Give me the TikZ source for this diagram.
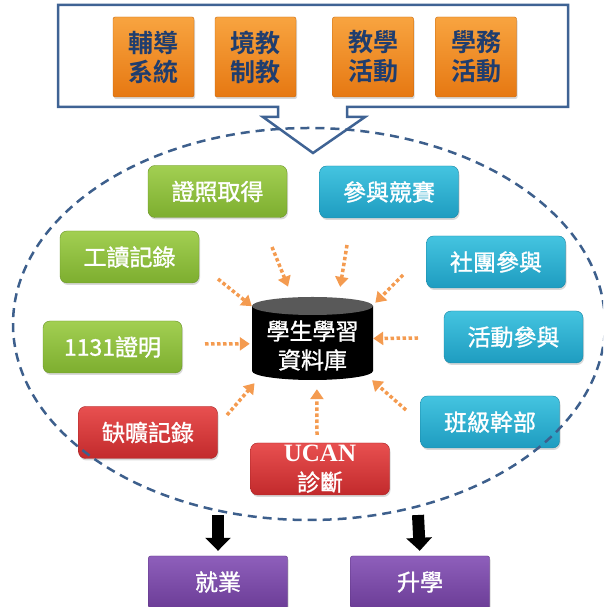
\documentclass[tikz,border=0pt]{standalone}
\usepackage{fontspec}
\setmainfont{Noto Sans CJK TC}[FakeBold=1.2]
\newfontfamily\unitfont{Noto Sans CJK TC Bold}
\newfontfamily\ucanfont{Liberation Serif}
\usetikzlibrary{arrows.meta,shadows}

\begin{document}
\begin{tikzpicture}[x=1pt, y=1pt,
    every node/.style={font=\fontsize{23}{29}\selectfont, align=center, inner sep=0pt},
    boxshadow/.style={drop shadow={opacity=0.3, shadow xshift=1pt, shadow yshift=-2pt}},
    unitbox/.style={boxshadow, rounded corners=2pt, minimum width=81pt, minimum height=80pt,
        top color=unitTop, bottom color=unitBot, draw=unitBot!85!black, text=unitText,
        font=\unitfont\fontsize{25}{29}\selectfont},
    recbox/.style={boxshadow, rounded corners=7pt, minimum width=139pt, minimum height=52pt, text=white},
    greenbox/.style={recbox, top color=greenTop, bottom color=greenBot, draw=greenBot!85!black},
    bluebox/.style={recbox, top color=blueTop, bottom color=blueBot, draw=blueBot!85!black},
    redbox/.style={recbox, top color=redTop, bottom color=redBot, draw=redBot!85!black},
    purplebox/.style={recbox, rounded corners=2pt, top color=purpleTop, bottom color=purpleBot, draw=purpleBot!85!black},
    feed/.style={draw=feedOrange, line width=3.5pt, dash pattern=on 3.5pt off 2.5pt, -{Triangle[width=13pt,length=10pt]}},
    outflow/.style={line width=12pt, -{Triangle[width=25pt,length=13pt]}, shorten >=5pt}]
        \definecolor{unitTop}{HTML}{F8A440}
        \definecolor{unitBot}{HTML}{E67812}
        \definecolor{unitText}{HTML}{1F3D6E}
        \definecolor{greenTop}{HTML}{A2CF52}
        \definecolor{greenBot}{HTML}{7DAE2F}
        \definecolor{blueTop}{HTML}{44C4E0}
        \definecolor{blueBot}{HTML}{1E9CC0}
        \definecolor{redTop}{HTML}{E85050}
        \definecolor{redBot}{HTML}{C22A2C}
        \definecolor{purpleTop}{HTML}{8E5FBB}
        \definecolor{purpleBot}{HTML}{6C3D97}
        \definecolor{frame}{HTML}{3F6394}
        \definecolor{ring}{HTML}{3D5F8C}
        \definecolor{feedOrange}{HTML}{F49B50}
        \useasboundingbox (0,0) rectangle (603,607);
        \clip (0,0) rectangle (603,607);
        % units on top
        \draw[frame, line width=2.5pt, line join=miter]
          (58,602) -- (568,602) -- (568,500) -- (347,500) -- (347,490) -- (365,490)
          -- (313,454) -- (263,490) -- (278,490) -- (278,500) -- (58,500) -- cycle;
        \node[unitbox] (fudao) at (153.5,550) {輔導\\系統};
        \node[unitbox] (jingjiao) at (255.5,550) {境教\\制教};
        \node[unitbox] (jiaoxue) at (373,550) {教學\\活動};
        \node[unitbox] (xuewu) at (476,550) {學務\\活動};
        % database
        \fill[black] (252,301) -- (252,236) arc[start angle=180, end angle=360, x radius=60.5, y radius=9] -- (373,301) -- cycle;
        \fill[black!65] (312.5,301) ellipse[x radius=60.5, y radius=9];
        \node[minimum width=121pt, minimum height=83pt] (db) at (312.5,268.5) {};
        \node[text=white] (dblabel) at (312.5,261.5) {學生學習\\資料庫};
        % records
        \node[greenbox] (zhengzhao) at (217.5,415.5) {證照取得};
        \node[greenbox] (gongdu) at (129.5,350) {工讀記錄};
        \node[greenbox] (zhengming) at (112.5,260) {1131證明};
        \node[redbox] (queke) at (148,174.5) {缺曠記錄};
        \node[redbox] (ucan) at (320,138) {{\ucanfont\bfseries\fontsize{25}{29}\selectfont UCAN}\\診斷};
        \node[bluebox] (jingsai) at (389,415) {參與競賽};
        \node[bluebox] (shetuan) at (496,345) {社團參與};
        \node[bluebox] (huodong) at (513.5,270) {活動參與};
        \node[bluebox] (ganbu) at (490,185) {班級幹部};
        % feeds into the database
        \coordinate (f1) at (272,360);
        \coordinate (f2) at (347,362);
        \coordinate (f3) at (218,328);
        \coordinate (f4) at (403,332);
        \coordinate (f5) at (205,263);
        \coordinate (f6) at (418,269);
        \coordinate (f7) at (227,192);
        \coordinate (f8) at (406,197);
        \coordinate (f9) at (317,172);
        \draw[feed, shorten >=11pt] (f1) -- (db.116.3);
        \draw[feed, shorten >=10pt] (f2) -- (db.58.1);
        \draw[feed] (f3) -- (db.152.5);
        \draw[feed, shorten >=3pt] (f4) -- (db.29);
        \draw[feed, shorten >=2pt] (f5) -- (db.185.2);
        \draw[feed] (f6) -- (db.0);
        \draw[feed, shorten >=4pt] (f7) -- (db.217.1);
        \draw[feed] (f8) -- (db.325.8);
        \draw[feed, shorten >=9pt] (f9) -- (db.276.2);
        % dashed ring
        \draw[ring, line width=2.5pt, dash pattern=on 9pt off 6pt] (309,283) ellipse[x radius=296, y radius=196];
        % outcomes
        \node[purplebox] (jiuye) at (218,25) {就業};
        \node[purplebox] (shengxue) at (420,25) {升學};
        \coordinate (out1) at (218,92);
        \coordinate (out2) at (418,92);
        \draw[outflow] (out1) -- (jiuye.north);
        \draw[outflow] (out2) -- (shengxue.north);
      \end{tikzpicture}
\end{document}
